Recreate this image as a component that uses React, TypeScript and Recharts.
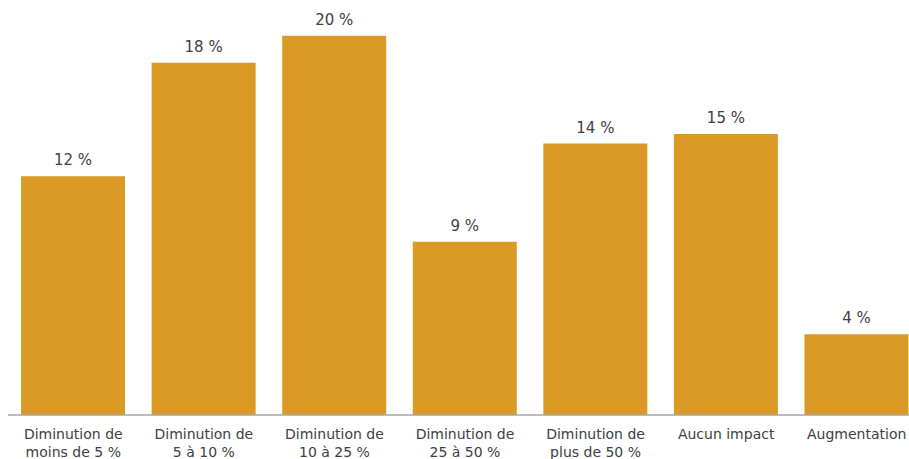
import React from "react";
import { BarChart, Bar, XAxis, YAxis, LabelList } from "recharts";

const categories = [
  "Diminution de\nmoins de 5 %",
  "Diminution de\n5 à 10 %",
  "Diminution de\n10 à 25 %",
  "Diminution de\n25 à 50 %",
  "Diminution de\nplus de 50 %",
  "Aucun impact",
  "Augmentation",
];
const values = [12.4, 18.3, 19.7, 9.0, 14.1, 14.6, 4.2];

const data = categories.map((c, i) => ({ name: c, value: values[i] }));

const FONT = "'DejaVu Sans', sans-serif";

const Tick = (props: any) => {
  const { x, y, payload } = props;
  const lines = String(payload.value).split("\n");
  return (
    <text x={x} y={y} textAnchor="middle" fill="#404040" fontSize={14} fontFamily={FONT}>
      {lines.map((l, i) => (
        <tspan key={i} x={x} dy={i === 0 ? 24 : 17.5}>
          {l}
        </tspan>
      ))}
    </text>
  );
};

export default function App() {
  return (
    <div
      style={{
        position: "fixed",
        left: 0,
        top: 0,
        width: 909,
        height: 459,
        overflow: "hidden",
        background: "#fff",
      }}
    >
      <div style={{ position: "absolute", left: 8, top: 8 }}>
        <BarChart
          width={914}
          height={451}
          data={data}
          margin={{ top: 22, right: 0, bottom: 0, left: 0 }}
          barCategoryGap="10%"
        >
          <XAxis
            dataKey="name"
            interval={0}
            tickLine={false}
            tickSize={0}
            tickMargin={0}
            height={44}
            axisLine={{ stroke: "#A6A6A6", strokeWidth: 1.5 }}
            tick={<Tick />}
          />
          <YAxis hide domain={[0, 20]} allowDataOverflow={false} />
          <Bar dataKey="value" fill="#DA9A25" isAnimationActive={false}>
            <LabelList
              dataKey="value"
              position="top"
              offset={11}
              formatter={(v: any) => `${Math.round(Number(v))}\u00a0%`}
              fill="#404040"
              fontSize={15}
              fontFamily={FONT}
            />
          </Bar>
        </BarChart>
      </div>
    </div>
  );
}
